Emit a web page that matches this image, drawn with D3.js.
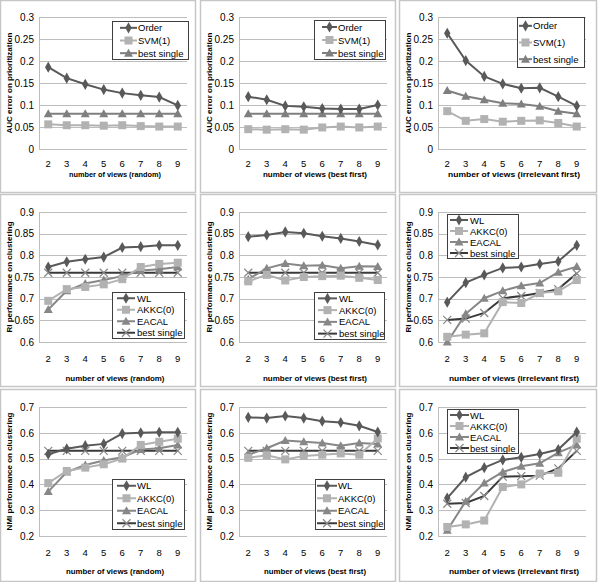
<!DOCTYPE html>
<html><head><meta charset="utf-8">
<script src="https://cdn.jsdelivr.net/npm/d3@7"></script>
<style>body{margin:0;background:#fff}svg{display:block}text{font-family:"Liberation Sans",Arial,sans-serif}</style>
</head><body><svg id="c" width="600" height="582"></svg>
<script>
const views = [2,3,4,5,6,7,8,9];
const xTitles = ["number of views (random)","number of views (best first)","number of views (irrelevant first)"];
const yTitles = ["AUC error on prioritization","RI performance  on clustering","NMI performance  on clustering"];
const yTicks = [[0,0.05,0.1,0.15,0.2,0.25,0.3],[0.6,0.65,0.7,0.75,0.8,0.85,0.9],[0.2,0.3,0.4,0.5,0.6,0.7]];
const names1 = ["Order","SVM(1)","best single"];
const names2 = ["WL","AKKC(0)","EACAL","best single"];

// AUC error on prioritization
const aucRandom_Order = [0.186,0.161,0.147,0.135,0.127,0.122,0.118,0.099];
const aucRandom_SVM   = [0.056,0.054,0.054,0.053,0.054,0.052,0.051,0.051];
const aucRandom_Best  = [0.08,0.08,0.08,0.08,0.08,0.08,0.08,0.08];
const aucBest_Order   = [0.119,0.112,0.098,0.096,0.092,0.091,0.091,0.100];
const aucBest_SVM     = [0.045,0.044,0.045,0.044,0.049,0.051,0.049,0.051];
const aucBest_Best    = [0.08,0.08,0.08,0.08,0.08,0.08,0.08,0.08];
const aucIrr_Order    = [0.263,0.201,0.165,0.148,0.138,0.139,0.119,0.098];
const aucIrr_SVM      = [0.086,0.064,0.068,0.062,0.064,0.065,0.059,0.051];
const aucIrr_Best     = [0.133,0.120,0.112,0.104,0.102,0.097,0.086,0.080];

// RI performance on clustering
const riRandom_WL    = [0.773,0.785,0.791,0.796,0.818,0.820,0.823,0.823];
const riRandom_AKKC  = [0.695,0.722,0.727,0.733,0.745,0.773,0.780,0.783];
const riRandom_EACAL = [0.675,0.718,0.735,0.743,0.752,0.765,0.768,0.773];
const riRandom_Best  = [0.76,0.76,0.76,0.76,0.76,0.76,0.76,0.76];
const riBest_WL      = [0.843,0.847,0.854,0.851,0.844,0.839,0.832,0.824];
const riBest_AKKC    = [0.740,0.755,0.742,0.750,0.752,0.753,0.748,0.743];
const riBest_EACAL   = [0.745,0.770,0.781,0.776,0.777,0.770,0.775,0.774];
const riBest_Best    = [0.76,0.76,0.76,0.76,0.76,0.76,0.76,0.76];
const riIrr_WL       = [0.692,0.737,0.755,0.771,0.773,0.780,0.786,0.823];
const riIrr_AKKC     = [0.612,0.617,0.620,0.692,0.690,0.713,0.717,0.743];
const riIrr_EACAL    = [0.600,0.665,0.701,0.718,0.730,0.736,0.761,0.774];
const riIrr_Best     = [0.651,0.654,0.667,0.701,0.706,0.713,0.722,0.758];

// NMI performance on clustering
const nmiRandom_WL    = [0.517,0.538,0.550,0.557,0.597,0.600,0.602,0.602];
const nmiRandom_AKKC  = [0.405,0.452,0.465,0.478,0.500,0.553,0.565,0.577];
const nmiRandom_EACAL = [0.372,0.448,0.475,0.493,0.505,0.535,0.540,0.553];
const nmiRandom_Best  = [0.53,0.53,0.53,0.53,0.53,0.53,0.53,0.53];
const nmiBest_WL      = [0.660,0.657,0.665,0.657,0.645,0.640,0.627,0.603];
const nmiBest_AKKC    = [0.503,0.513,0.497,0.510,0.515,0.520,0.515,0.578];
const nmiBest_EACAL   = [0.515,0.540,0.570,0.565,0.560,0.550,0.560,0.557];
const nmiBest_Best    = [0.53,0.53,0.53,0.53,0.53,0.53,0.53,0.53];
const nmiIrr_WL       = [0.347,0.428,0.465,0.495,0.505,0.518,0.535,0.603];
const nmiIrr_AKKC     = [0.235,0.245,0.260,0.390,0.400,0.442,0.445,0.577];
const nmiIrr_EACAL    = [0.222,0.335,0.405,0.448,0.470,0.482,0.523,0.553];
const nmiIrr_Best     = [0.325,0.328,0.355,0.430,0.432,0.434,0.462,0.530];

const panelData = [
  [[aucRandom_Order,aucRandom_SVM,aucRandom_Best],[aucBest_Order,aucBest_SVM,aucBest_Best],[aucIrr_Order,aucIrr_SVM,aucIrr_Best]],
  [[riRandom_WL,riRandom_AKKC,riRandom_EACAL,riRandom_Best],[riBest_WL,riBest_AKKC,riBest_EACAL,riBest_Best],[riIrr_WL,riIrr_AKKC,riIrr_EACAL,riIrr_Best]],
  [[nmiRandom_WL,nmiRandom_AKKC,nmiRandom_EACAL,nmiRandom_Best],[nmiBest_WL,nmiBest_AKKC,nmiBest_EACAL,nmiBest_Best],[nmiIrr_WL,nmiIrr_AKKC,nmiIrr_EACAL,nmiIrr_Best]]
];

// layout
const colX = [0,200,399], colW = [196,196,198];
const rowY = [0,194,389], rowH = [193,193,193];
const plotTop = [17,18,18], plotBot = [149,148,147];
const xTickPad = [11.5,13.5,13.5];
const xTitleY = [177,187,185];
const xTitleLen = [[92,104,132],[99,104,130],[98,102,130]];
// [x, y, w, h, lineStart, lineEnd, textX]
const legendBoxes = [
  [[112,21,76,38,8,25,26],[114,20,71,39,8,23,24],[118,17,67,50,2,15,16]],
  [[112,98,72,46,5,23,25],[114,98,70,47,4,23,25],[48,20,71,44,3,21,23]],
  [[112,90,72,50,5,24,25],[115,90,69,50,2,22,23],[48,20,71,44,3,22,23]]
];

const styles1 = [
  {color:"#595959", marker:"diamond"},
  {color:"#b2b2b2", marker:"square"},
  {color:"#7f7f7f", marker:"triangle"}
];
const styles2 = [
  {color:"#595959", marker:"diamond"},
  {color:"#b2b2b2", marker:"square"},
  {color:"#878787", marker:"triangle"},
  {color:"#3a3a3a", marker:"x"}
];

const svg = d3.select("#c");

function drawMarker(g, type, x, y, color){
  if(type==="diamond"){
    g.append("path").attr("d",d3.symbol(d3.symbolDiamond,36)()).attr("transform",`translate(${x},${y})`).attr("fill",color);
  } else if(type==="square"){
    g.append("rect").attr("x",x-4).attr("y",y-4).attr("width",8).attr("height",8).attr("fill",color);
  } else if(type==="triangle"){
    g.append("path").attr("d",`M${x},${y-4.5}L${x+4.5},${y+3.5}L${x-4.5},${y+3.5}Z`).attr("fill",color);
  } else if(type==="x"){
    g.append("path").attr("d",`M${x-4},${y-4}L${x+4},${y+4}M${x-4},${y+4}L${x+4},${y-4}`).attr("stroke","#8a8a8a").attr("stroke-width",1.3).attr("fill","none");
  }
}

for(let r=0;r<3;r++){
  for(let c=0;c<3;c++){
    const g = svg.append("g").attr("transform",`translate(${colX[c]},${rowY[r]})`);
    g.append("rect").attr("x",0.5).attr("y",0.5).attr("width",colW[c]-1).attr("height",rowH[r]-1)
      .attr("fill","#fff").attr("stroke","#c6c6c6").attr("stroke-width",1.5);
    const left = 39, right = 187;
    const ticks = yTicks[r];
    const y = d3.scaleLinear().domain([ticks[0],ticks[ticks.length-1]]).range([plotBot[r],plotTop[r]]);
    const x = d3.scaleBand().domain(views).range([left,right]);
    g.selectAll(".grid").data(ticks).enter().append("line")
      .attr("x1",left).attr("x2",right).attr("y1",d=>Math.round(y(d))+0.5).attr("y2",d=>Math.round(y(d))+0.5)
      .attr("stroke","#bdbdbd").attr("stroke-width",1);
    g.append("line").attr("x1",left+0.5).attr("x2",left+0.5).attr("y1",plotTop[r]).attr("y2",plotBot[r]).attr("stroke","#bdbdbd");
    const yAxis = d3.axisLeft(y).tickValues(ticks).tickSize(0).tickPadding(5)
      .tickFormat(d=>d3.format("~g")(+d.toFixed(2)));
    const ya = g.append("g").attr("transform",`translate(${left},0)`).call(yAxis);
    ya.select(".domain").remove();
    ya.selectAll("text").attr("font-size",10).attr("fill","#000").attr("font-family","Liberation Sans, Arial, sans-serif");
    const xAxis = d3.axisBottom(x).tickSize(0).tickPadding(xTickPad[r]);
    const xa = g.append("g").attr("transform",`translate(0,${plotBot[r]})`).call(xAxis);
    xa.select(".domain").remove();
    xa.selectAll("text").attr("font-size",9.5).attr("fill","#000").attr("font-family","Liberation Sans, Arial, sans-serif");
    g.append("text").attr("x",(left+right)/2+2).attr("y",xTitleY[r]).attr("text-anchor","middle")
      .attr("font-size",8).attr("font-weight","bold")
      .attr("textLength",xTitleLen[r][c]).attr("lengthAdjust","spacingAndGlyphs").text(xTitles[c]);
    g.append("text").attr("transform",`translate(12,${(plotTop[r]+plotBot[r])/2}) rotate(-90)`)
      .attr("text-anchor","middle").attr("font-size",8).attr("font-weight","bold").text(yTitles[r]);
    const series = panelData[r][c];
    const styles = r===0 ? styles1 : styles2;
    const names = r===0 ? names1 : names2;
    const cx = v => x(v)+x.bandwidth()/2;
    const line = d3.line().x((d,i)=>cx(views[i])).y(d=>y(d));
    const order = r===0 ? [2,1,0] : [3,2,1,0];
    order.forEach(si=>{
      const st = styles[si];
      const s = g.append("g");
      s.append("path").attr("d",line(series[si])).attr("fill","none")
        .attr("stroke",st.color).attr("stroke-width",2);
      series[si].forEach((v,i)=>drawMarker(s, st.marker, cx(views[i]), y(v), st.color));
    });
    const [lx,ly,lw,lh,l0,l1,tx] = legendBoxes[r][c];
    const lg = g.append("g");
    lg.append("rect").attr("x",lx+0.5).attr("y",ly+0.5).attr("width",lw).attr("height",lh)
      .attr("fill","#fff").attr("stroke","#3f3f3f").attr("stroke-width",1);
    const n = names.length, step = lh/n;
    names.forEach((nm,i)=>{
      const yy = ly + step*(i+0.5) + 0.5;
      const st = styles[i];
      lg.append("line").attr("x1",lx+l0).attr("x2",lx+l1).attr("y1",yy).attr("y2",yy)
        .attr("stroke",st.color).attr("stroke-width",2);
      drawMarker(lg, st.marker, lx+(l0+l1)/2, yy, st.color);
      lg.append("text").attr("x",lx+tx).attr("y",yy+3.5).attr("font-size",9.5).attr("fill","#000").text(nm);
    });
  }
}
</script></body></html>
